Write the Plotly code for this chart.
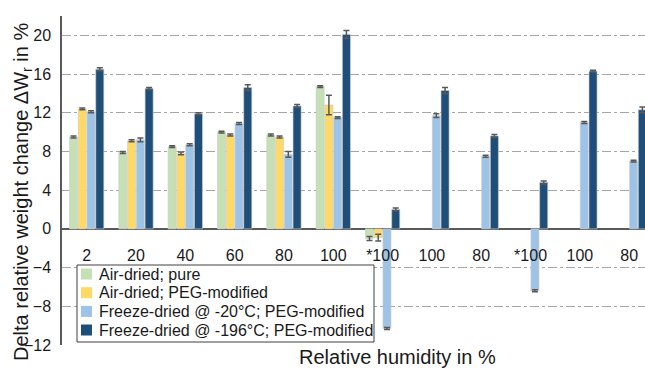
import plotly.graph_objects as go

# ---- data ----
x_labels = ["2", "20", "40", "60", "80", "100", "*100", "100", "80", "*100", "100", "80"]
series_names = [
    "Air-dried; pure",
    "Air-dried; PEG-modified",
    "Freeze-dried @ -20°C; PEG-modified",
    "Freeze-dried @ -196°C; PEG-modified",
]
air_pure = [9.5, 7.9, 8.5, 10.0, 9.7, 14.7, -1.0, None, None, None, None, None]
air_peg = [12.4, 9.1, 7.8, 9.7, 9.5, 12.8, -0.9, None, None, None, None, None]
fd20_peg = [12.1, 9.2, 8.7, 10.9, 7.7, 11.5, -10.3, 11.7, 7.5, -6.4, 11.0, 7.0]
fd196_peg = [16.5, 14.5, 11.9, 14.6, 12.7, 20.1, 2.0, 14.3, 9.6, 4.8, 16.3, 12.3]

air_pure_err = [0.1, 0.1, 0.1, 0.1, 0.1, 0.1, 0.2, None, None, None, None, None]
air_peg_err = [0.1, 0.1, 0.15, 0.1, 0.1, 1.0, 0.35, None, None, None, None, None]
fd20_peg_err = [0.1, 0.2, 0.1, 0.1, 0.3, 0.1, 0.1, 0.2, 0.1, 0.1, 0.1, 0.1]
fd196_peg_err = [0.15, 0.1, 0.1, 0.3, 0.15, 0.4, 0.15, 0.3, 0.15, 0.15, 0.1, 0.3]

colors = ["#c5e0b4", "#ffd966", "#9dc3e6", "#1f4e79"]

values = [air_pure, air_peg, fd20_peg, fd196_peg]
errors = [air_pure_err, air_peg_err, fd20_peg_err, fd196_peg_err]
xpos = list(range(len(x_labels)))

FONT = "Liberation Sans, Arial, sans-serif"
TXT = "#1a1a1a"

W, H = 645, 371
ML, MR, MT, MB = 62, 0, 16, 26
PW, PH = W - ML - MR, H - MT - MB


def px_x(px):
    return (px - ML) / PW


def px_y(py):
    return (H - MB - py) / PH


fig = go.Figure()
for name, vals, errs, col in zip(series_names, values, errors, colors):
    fig.add_trace(go.Bar(
        x=xpos, y=vals, name=name,
        marker=dict(color=col, line=dict(color="rgba(205,205,205,0.8)", width=0.8)),
        error_y=dict(type="data", array=errs, visible=True,
                     color="#595959", thickness=1.5, width=3),
    ))

fig.update_layout(
    width=W, height=H,
    margin=dict(l=ML, r=MR, t=MT, b=MB, autoexpand=False),
    paper_bgcolor="white", plot_bgcolor="white",
    barmode="group", bargap=0.29, bargroupgap=0.08,
    font=dict(family=FONT, size=16, color=TXT),
    showlegend=False,
    xaxis=dict(
        range=[-0.5, 11.32],
        tickmode="array", tickvals=xpos, ticktext=x_labels,
        anchor="free", position=12 / 34,
        showgrid=False, showline=False, zeroline=False,
        ticks="", ticklabelstandoff=15, automargin=False,
        tickfont=dict(family=FONT, size=16, color=TXT),
    ),
    yaxis=dict(
        range=[-12, 22], dtick=4, tick0=0,
        showgrid=True, gridcolor="#a6a6a6", gridwidth=1, griddash="dashdot",
        zeroline=True, zerolinecolor="#595959", zerolinewidth=1.5,
        showline=True, linecolor="#595959", linewidth=1.5,
        ticks="", ticklabelstandoff=6, automargin=False,
        tickfont=dict(family=FONT, size=16, color=TXT),
    ),
)

# ---- legend box (drawn to match the reference's compact legend) ----
fig.add_shape(type="rect", xref="paper", yref="paper",
              x0=px_x(77), x1=px_x(374), y0=px_y(342), y1=px_y(265),
              fillcolor="white", line=dict(color="#404040", width=1), layer="above")
row_y = [274, 292.7, 311.4, 330]
for name, col, ry in zip(series_names, colors, row_y):
    fig.add_shape(type="rect", xref="paper", yref="paper",
                  x0=px_x(81), x1=px_x(92), y0=px_y(ry + 5.5), y1=px_y(ry - 5.5),
                  fillcolor=col, line=dict(width=0), layer="above")
    fig.add_annotation(text=name, xref="paper", yref="paper",
                       x=px_x(97), y=px_y(ry), xanchor="left", yanchor="middle",
                       showarrow=False, font=dict(family=FONT, size=16, color=TXT))

fig.add_annotation(
    text="Relative humidity in %", xref="paper", yref="paper",
    x=px_x(397), y=px_y(357), xanchor="center", yanchor="middle", showarrow=False,
    font=dict(family=FONT, size=20, color=TXT),
)
fig.add_annotation(
    text="Delta relative weight change ΔW<sub>r</sub> in %", xref="paper", yref="paper",
    x=px_x(22), y=px_y(192), xanchor="center", yanchor="middle", showarrow=False,
    textangle=-90,
    font=dict(family=FONT, size=20, color=TXT),
)

fig.write_html(
    "out.html",
    config={"displayModeBar": False},
    post_script="document.body.style.margin='0px';document.body.style.overflow='hidden';",
)
